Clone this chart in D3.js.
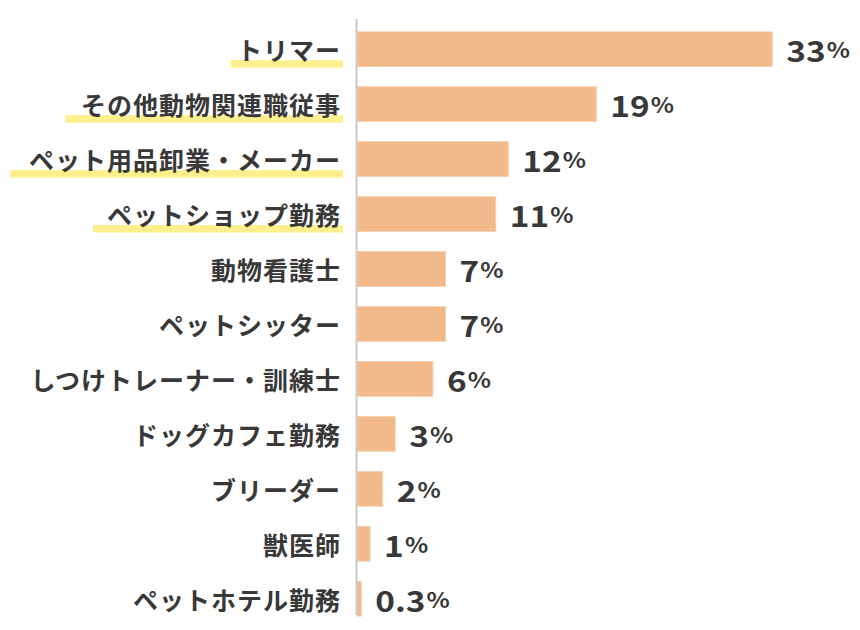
<!DOCTYPE html>
<html><head><meta charset="utf-8">
<script src="https://cdn.jsdelivr.net/npm/d3@7"></script>
<style>
html,body{margin:0;padding:0;background:#fff;}
svg{display:block;font-family:"Noto Sans CJK JP","Noto Sans",sans-serif;}
</style></head>
<body>
<svg id="chart" width="860" height="630"></svg>
<script>
const categories = ["トリマー","その他動物関連職従事","ペット用品卸業・メーカー","ペットショップ勤務","動物看護士","ペットシッター","しつけトレーナー・訓練士","ドッグカフェ勤務","ブリーダー","獣医師","ペットホテル勤務"];
const values = [33,19,12,11,7,7,6,3,2,1,0.3];
const highlighted = ["トリマー","その他動物関連職従事","ペット用品卸業・メーカー","ペットショップ勤務"];
const valueLabels = ["33","19","12","11","7","7","6","3","2","1","0.3"];

const svg = d3.select("#chart");
const x = d3.scaleLinear().domain([0,33]).range([357.5,772.3]);
const y = d3.scaleBand().domain(categories).range([21.7,626.2]).paddingInner(0.367).paddingOuter(0.183);

// bars
svg.append("g").selectAll("rect").data(categories).join("rect")
  .attr("x", x(0))
  .attr("y", d => y(d))
  .attr("width", (d,i) => x(values[i]) - x(0))
  .attr("height", y.bandwidth())
  .attr("fill", "#f2b98b")
  .attr("stroke", "#f6cfae")
  .attr("stroke-width", 0.8);

// axis line
svg.append("line")
  .attr("x1", 356.5).attr("x2", 356.5)
  .attr("y1", 19).attr("y2", 615)
  .attr("stroke", "#c9c9c9").attr("stroke-width", 2);

// category labels with highlight
const lg = svg.append("g");
const labelX = 341;
categories.forEach((c) => {
  const cy = y(c) + y.bandwidth()/2;
  const g = lg.append("g");
  const hl = g.append("rect");
  const t = g.append("text")
    .attr("x", labelX)
    .attr("y", cy)
    .attr("text-anchor", "end")
    .attr("dominant-baseline", "central")
    .attr("font-size", 25)
    .attr("font-weight", 700)
    .attr("letter-spacing", 1)
    .attr("fill", "#383838")
    .text(c);
  if (highlighted.includes(c)) {
    const bb = t.node().getBBox();
    const left = bb.x - 0.06 * bb.width;
    hl.attr("x", left).attr("width", labelX + 2 - left)
      .attr("y", cy + 11).attr("height", 7.5)
      .attr("fill", "#fdf08c");
  } else hl.remove();
});

// value labels
const vg = svg.append("g");
categories.forEach((c,i) => {
  const cy = y(c) + y.bandwidth()/2;
  const t = vg.append("text")
    .attr("transform", `translate(${x(values[i]) + 14},${cy}) scale(1.15,1)`)
    .attr("dominant-baseline", "central")
    .attr("font-weight", 700)
    .attr("fill", "#383838");
  t.append("tspan").attr("font-size", 29).text(valueLabels[i]);
  t.append("tspan").attr("font-size", 21).attr("dx", 1).text("%");
});
</script>
</body></html>
